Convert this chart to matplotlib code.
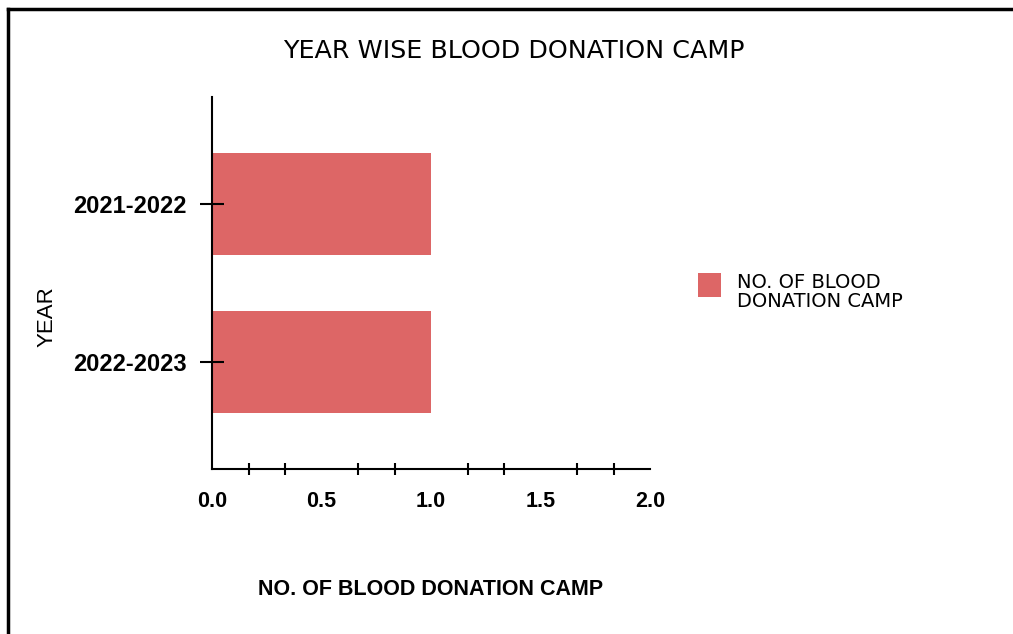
import matplotlib.pyplot as plt
import numpy as np
from matplotlib.lines import Line2D
from matplotlib.patches import Rectangle

plt.rcParams['font.family'] = ['Liberation Sans', 'DejaVu Sans']

years = ['2021-2022', '2022-2023']
camps = [1, 1]
x_ticks = [0.0, 0.5, 1.0, 1.5, 2.0]
series_name = 'NO. OF BLOOD\nDONATION CAMP'
bar_color = '#dd6666'

fig = plt.figure(figsize=(10.13, 6.34), dpi=100)
ax = fig.add_axes([0.2093, 0.2603, 0.4324, 0.5867])

ypos = np.arange(len(years))
ax.barh(ypos, camps, height=0.645, color=bar_color, zorder=1)

ax.set_xlim(0, 2)
ax.set_ylim(1.677, -0.677)

ax.set_xticks(x_ticks)
ax.set_xticklabels([f'{t:.1f}' for t in x_ticks], fontsize=15.5, fontweight='bold')
minor = [k / 6 for k in range(13) if k % 3 != 0]
ax.set_xticks(minor, minor=True)
ax.tick_params(axis='x', which='major', length=0, pad=16)
ax.tick_params(axis='x', which='minor', direction='inout', length=9, width=1.5)

ax.set_yticks(ypos)
ax.set_yticklabels(years, fontsize=17, fontweight='bold')
ax.tick_params(axis='y', direction='inout', length=17, width=1.5, pad=10)

for s in ['top', 'right']:
    ax.spines[s].set_visible(False)
for s in ['left', 'bottom']:
    ax.spines[s].set_linewidth(1.5)
    ax.spines[s].set_zorder(3)

ax.set_xlabel('NO. OF BLOOD DONATION CAMP', fontsize=15.5, fontweight='bold', labelpad=48)
ax.set_ylabel('YEAR', fontsize=16)
ax.yaxis.set_label_coords(-0.353, 0.41)

fig.text(0.507, 0.92, 'YEAR WISE BLOOD DONATION CAMP', ha='center', va='center',
         fontsize=18.3, family=['DejaVu Sans'])

# legend: swatch beside first line of the label
fig.add_artist(Rectangle((0.689, 0.5315), 0.023, 0.038, transform=fig.transFigure,
                         facecolor=bar_color, edgecolor='none'))
fig.text(0.7275, 0.569, series_name, ha='left', va='top', fontsize=14,
         family=['DejaVu Sans'], linespacing=0.95)

# outer frame (left and top edges)
fig.add_artist(Line2D([0.008, 0.008], [0, 0.986], color='black', lw=2.5))
fig.add_artist(Line2D([0.008, 1.0], [0.986, 0.986], color='black', lw=2.5))

fig.savefig('out.png', dpi=100, facecolor='white')
